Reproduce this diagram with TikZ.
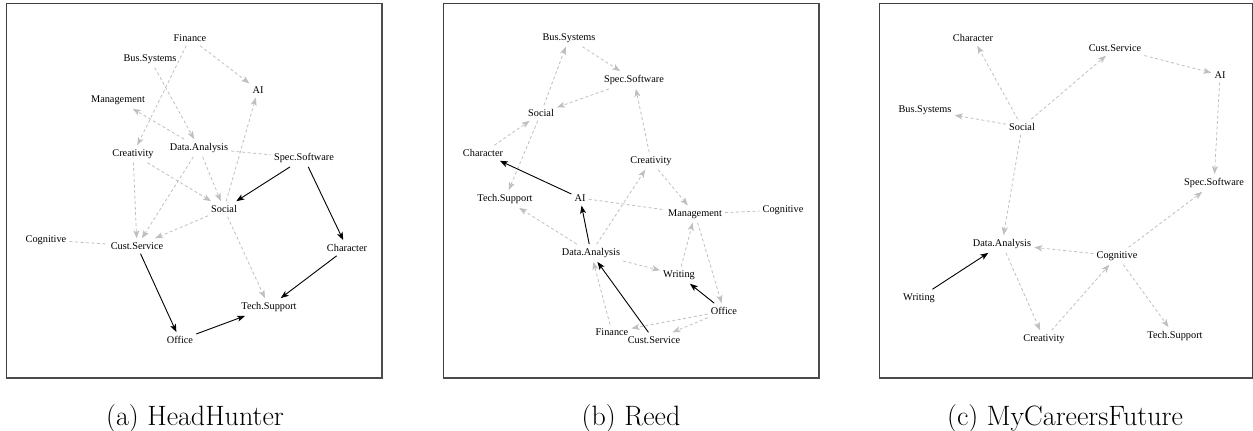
\documentclass[tikz,border=0pt]{standalone}
\usepackage{fontspec}
\newfontfamily\lblfont{Liberation Serif}
\usetikzlibrary{arrows.meta}
\tikzset{
  lbl/.style={font=\lblfont\fontsize{10.3}{12}\selectfont, inner xsep=3pt, inner ysep=4pt},
  weak/.style={draw=gray!50, dash pattern=on 3pt off 2.5pt, line width=0.8pt,
    -{Stealth[length=8pt,width=6pt,inset=2pt]}},
  weakplain/.style={draw=gray!50, dash pattern=on 3pt off 2.5pt, line width=0.8pt},
  strong/.style={draw=black, line width=0.9pt, -{Stealth[length=8pt,width=6pt,inset=2pt]}},
  panel/.style={draw=black!75, line width=1pt},
  panelshade/.style={draw=black!70, line width=1.8pt},
  captext/.style={font=\fontsize{28}{32}\selectfont, anchor=base, inner sep=0pt}
}
\begin{document}
\begin{tikzpicture}[x=1pt,y=-1pt]
\useasboundingbox (0,0) rectangle (1253,431);

% ---------- frames and captions ----------
\draw[panel] (6,3) rectangle (382,378);
\draw[panelshade] (382,3) -- (382,378) -- (6,378);
\draw[panel] (443,3) rectangle (819,378);
\draw[panelshade] (819,3) -- (819,378) -- (443,378);
\draw[panel] (879,3) rectangle (1252,378);
\draw[panelshade] (1252,378) -- (879,378);
\node[captext] (capA) at (195,425) {(a) HeadHunter};
\node[captext] (capB) at (631,425) {(b) Reed};
\node[captext] (capC) at (1065,425) {(c) MyCareersFuture};

% ---------- (a) HeadHunter ----------
\node[lbl] (aFin) at (190,38) {Finance};
\node[lbl] (aBus) at (150,59) {Bus.Systems};
\node[lbl] (aMan) at (118,100) {Management};
\node[lbl] (aCre) at (133,154) {Creativity};
\node[lbl] (aDat) at (199,148) {Data.Analysis};
\node[lbl] (aAI)  at (258,90) {AI};
\node[lbl] (aSpe) at (304,158) {Spec.Software};
\node[lbl] (aCog) at (46,240) {Cognitive};
\node[lbl] (aCus) at (137,246) {Cust.Service};
\node[lbl] (aOff) at (180,340) {Office};
\node[lbl] (aSoc) at (224,209) {Social};
\node[lbl] (aCha) at (347,248) {Character};
\node[lbl] (aTec) at (269,307) {Tech.Support};

\draw[weak] (aFin) -- (aAI);
\draw[weak] (aFin) -- (aCre);
\draw[weak] (aBus) -- (aDat);
\draw[weak] (aDat) -- (aMan);
\draw[weakplain] (aDat) -- (aSpe);
\draw[weak] (aCre) -- (aCus);
\draw[weak] (aCre) -- (aSoc);
\draw[weak] (aDat) -- (aCus);
\draw[weak] (aDat) -- (aSoc);
\draw[weak] (aSoc) -- (aAI);
\draw[weak] (aSoc) -- (aCus);
\draw[weak] (aSoc) -- (aTec);
\draw[weakplain] (aCog) -- (aCus);
\draw[strong] (aSpe) -- (aSoc);
\draw[strong] (aSpe) -- (aCha);
\draw[strong] (aCus) -- (aOff);
\draw[strong] (aCha) -- (aTec);
\draw[strong] (aOff) -- (aTec);

% ---------- (b) Reed ----------
\node[lbl] (bBus) at (569,38) {Bus.Systems};
\node[lbl] (bSpe) at (634,80) {Spec.Software};
\node[lbl] (bSoc) at (541,113) {Social};
\node[lbl] (bCha) at (483,153) {Character};
\node[lbl] (bTec) at (505,199) {Tech.Support};
\node[lbl] (bAI)  at (580,198) {AI};
\node[lbl] (bCre) at (651,161) {Creativity};
\node[lbl] (bDat) at (591,253) {Data.Analysis};
\node[lbl] (bFin) at (612,332) {Finance};
\node[lbl] (bMan) at (695,214) {Management};
\node[lbl] (bCog) at (783,210) {Cognitive};
\node[lbl] (bWri) at (679,275) {Writing};
\node[lbl] (bOff) at (724,311) {Office};
\node[lbl] (bCus) at (654,340) {Cust.Service};

\draw[weak] (bSoc) -- (bBus);
\draw[weak] (bBus) -- (bSpe);
\draw[weak] (bSpe) -- (bSoc);
\draw[weak] (bCha) -- (bSoc);
\draw[weak] (bSoc) -- (bTec);
\draw[weak] (bCre) -- (bSpe);
\draw[weak] (bDat) -- (bCre);
\draw[weak] (bCre) -- (bMan);
\draw[weakplain] (bAI) -- (bMan);
\draw[weakplain] (bMan) -- (bCog);
\draw[weak] (bDat) -- (bTec);
\draw[weak] (bDat) -- (bWri);
\draw[weak] (bWri) -- (bMan);
\draw[weak] (bMan) -- (bOff);
\draw[weak] (bFin) -- (bDat);
\draw[weak] (bOff) -- (bFin);
\draw[weak] (bOff) -- (bCus);
\draw[strong] (bAI) -- (bCha);
\draw[strong] (bDat) -- (bAI);
\draw[strong] (bCus) -- (bDat);
\draw[strong] (bOff) -- (bWri);

% ---------- (c) MyCareersFuture ----------
\node[lbl] (cCha) at (973,38) {Character};
\node[lbl] (cBus) at (925,110) {Bus.Systems};
\node[lbl] (cSoc) at (1022,127) {Social};
\node[lbl] (cCus) at (1115,48) {Cust.Service};
\node[lbl] (cAI)  at (1220,75) {AI};
\node[lbl] (cSpe) at (1214,183) {Spec.Software};
\node[lbl] (cDat) at (1002,244) {Data.Analysis};
\node[lbl] (cWri) at (919,298) {Writing};
\node[lbl] (cCre) at (1044,339) {Creativity};
\node[lbl] (cCog) at (1117,256) {Cognitive};
\node[lbl] (cTec) at (1175,336) {Tech.Support};

\draw[weak] (cSoc) -- (cCha);
\draw[weak] (cSoc) -- (cBus);
\draw[weak] (cSoc) -- (cCus);
\draw[weak] (cCus) -- (cAI);
\draw[weak] (cAI) -- (cSpe);
\draw[weak] (cSoc) -- (cDat);
\draw[weak] (cCog) -- (cDat);
\draw[weak] (cCog) -- (cSpe);
\draw[weak] (cDat) -- (cCre);
\draw[weak] (cCre) -- (cCog);
\draw[weak] (cCog) -- (cTec);
\draw[strong] (cWri) -- (cDat);
\end{tikzpicture}
\end{document}
